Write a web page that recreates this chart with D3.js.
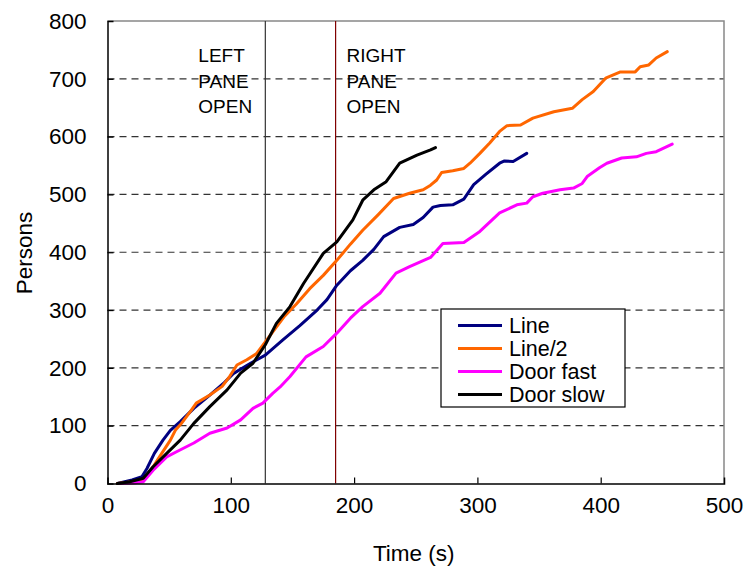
<!DOCTYPE html>
<html><head><meta charset="utf-8">
<script src="https://cdn.jsdelivr.net/npm/d3@7"></script>
<style>body{margin:0;background:#fff}svg{display:block}text{font-family:"Liberation Sans",Arial,sans-serif;fill:#000}</style>
</head><body><svg id="c" width="746" height="572"></svg>
<script>
const xTicks = [0,100,200,300,400,500];
const yTicks = [0,100,200,300,400,500,600,700,800];
const seriesNames = ["Line","Line/2","Door fast","Door slow"];
const seriesColors = ["#000080","#FF6600","#FF00FF","#000000"];
const markers = [{t:128,lines:["LEFT","PANE","OPEN"]},{t:185,lines:["RIGHT","PANE","OPEN"]}];
const markerColors = ["#333333","#800000"];

const lineT = [8,20,28,32,38,45,51,59,70,83,94,102,116,128,142,156,170,178,186,197,207,216,224,237,248,256,264,270,280,289,297,307,318,322,329,340];
const lineV = [0,6,12,26,52,75,92,107,130,153,173,190,208,222,248,273,300,318,343,368,386,405,427,443,448,460,478,481,482,492,517,535,554,558,557,571];
const line2T = [8,20,29,37,44,51,55,60,68,72,83,93,99,105,113,121,128,143,153,164,175,186,197,207,220,232,245,256,262,267,271,280,289,294,302,310,318,324,335,345,362,377,385,394,404,416,428,432,439,445,454];
const line2V = [0,3,6,29,52,75,92,104,127,139,153,168,185,205,214,225,245,288,310,337,360,386,414,438,466,493,502,508,516,525,538,541,545,554,571,589,609,619,620,632,643,649,664,678,701,712,712,721,724,736,747];
const fastT = [10,21,29,37,48,56,70,83,97,108,118,126,134,140,148,161,175,186,197,207,221,234,245,262,272,289,302,318,332,340,345,353,367,378,385,389,399,405,417,429,437,445,458];
const fastV = [0,1,3,23,46,55,70,87,96,110,130,139,156,167,185,219,237,260,286,306,329,364,375,391,415,417,436,468,482,485,496,502,508,511,519,531,546,554,563,565,571,574,587];
const slowT = [8,18,29,37,48,59,70,83,97,108,118,128,137,148,159,175,186,199,207,216,226,237,251,262,266];
const slowV = [0,3,9,29,52,75,104,133,162,191,208,240,277,306,346,398,418,456,490,508,522,554,568,577,581];

const seriesT = [lineT,line2T,fastT,slowT];
const seriesV = [lineV,line2V,fastV,slowV];

const L=107.5,R=724,T=21,B=483.5;
const svg=d3.select("#c");
svg.append("rect").attr("width",746).attr("height",572).attr("fill","#fff");
const x=d3.scaleLinear().domain([0,500]).range([L,R]);
const y=d3.scaleLinear().domain([0,800]).range([B,T]);

svg.append("g").selectAll("line").data(yTicks.filter(d=>d>0&&d<800)).join("line")
  .attr("x1",L).attr("x2",R).attr("y1",d=>y(d)).attr("y2",d=>y(d))
  .attr("stroke","#333").attr("stroke-width",1.2).attr("stroke-dasharray","7,5");

svg.append("path").attr("d",`M${L},${T}H${R}V${B}`).attr("fill","none").attr("stroke","#888").attr("stroke-width",1.5);

markers.forEach((m,i)=>{
  svg.append("line").attr("x1",x(m.t)).attr("x2",x(m.t)).attr("y1",T).attr("y2",B)
    .attr("stroke",markerColors[i]).attr("stroke-width",1.2);
  m.lines.forEach((s,j)=>{
    svg.append("text").attr("x",x(m.t)-67+(i*78)).attr("y",62.3+j*25.2).attr("font-size",19).text(s);
  });
});

const gen=d3.line().x(d=>x(d[0])).y(d=>y(d[1]));
seriesT.forEach((ts,i)=>{
  const pts=ts.map((t,k)=>[t,seriesV[i][k]]);
  svg.append("path").attr("d",gen(pts)).attr("fill","none").attr("stroke",seriesColors[i])
    .attr("stroke-width",3).attr("stroke-linejoin","round").attr("stroke-linecap","round");
});

const xa=svg.append("g").attr("transform",`translate(0,${B})`)
  .call(d3.axisBottom(x).tickValues(xTicks).tickSize(-6).tickPadding(14).tickFormat(d3.format("d")));
const ya=svg.append("g").attr("transform",`translate(${L},0)`)
  .call(d3.axisLeft(y).tickValues(yTicks).tickSize(-6).tickPadding(21).tickFormat(d3.format("d")));
[xa,ya].forEach(a=>{
  a.select(".domain").attr("stroke","#000").attr("stroke-width",1.5);
  a.selectAll(".tick line").attr("stroke","#000").attr("stroke-width",1.2);
  a.selectAll(".tick text").attr("font-size",22.5).attr("font-family","Liberation Sans, Arial, sans-serif").attr("fill","#000");
});
xa.selectAll(".tick").filter(d=>d===0||d===500).select("line").remove();
ya.selectAll(".tick").filter(d=>d===0||d===800).select("line").remove();
xa.selectAll(".tick text").attr("dy","0.71em");

svg.append("text").attr("x",(L+R)/2-2).attr("y",561).attr("text-anchor","middle").attr("font-size",22.5).text("Time (s)");
svg.append("text").attr("transform","translate(32,253) rotate(-90)").attr("text-anchor","middle").attr("font-size",22.5).text("Persons");

const lg=svg.append("g");
lg.append("rect").attr("x",441).attr("y",309).attr("width",184).attr("height",98).attr("fill","#fff").attr("stroke","#000").attr("stroke-width",1.2);
seriesNames.forEach((n,i)=>{
  const yy=325.5+i*23;
  lg.append("line").attr("x1",458).attr("x2",502).attr("y1",yy).attr("y2",yy).attr("stroke",seriesColors[i]).attr("stroke-width",3);
  lg.append("text").attr("x",509).attr("y",yy+7.5).attr("font-size",21.5).text(n);
});
</script></body></html>
